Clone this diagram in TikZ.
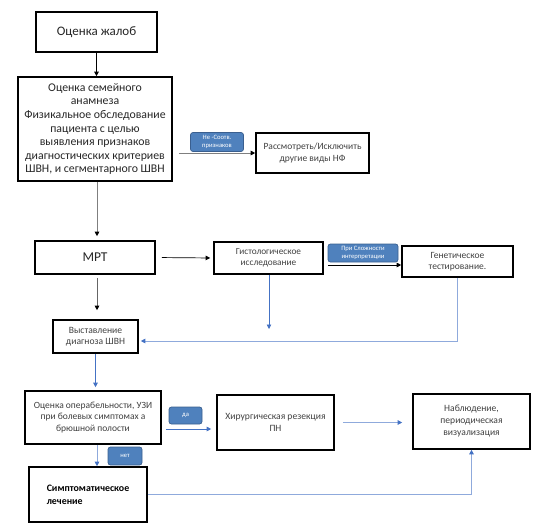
\documentclass[tikz,border=0pt]{standalone}
\usepackage{fontspec}
\setmainfont{Carlito}
\usetikzlibrary{arrows.meta}
\definecolor{txt}{HTML}{404040}
\definecolor{dtxt}{HTML}{262626}
\definecolor{bluec}{HTML}{4472C4}
\definecolor{lblue}{HTML}{8FAADC}
\definecolor{grayc}{HTML}{7F7F7F}
\definecolor{labfill}{HTML}{4F81BD}
\definecolor{labdraw}{HTML}{3A5F8F}
\begin{document}
\begin{tikzpicture}[x=1pt,y=-1pt,
  box/.style={draw=black,line width=1.6pt,inner sep=0pt,align=center,text=txt},
  lab/.style={draw=labdraw,fill=labfill,rounded corners=2.5pt,line width=0.7pt,inner sep=0pt,align=center,text=white,font=\fontsize{6.6}{7.4}\selectfont},
  tip/.style={-{Triangle[length=4.5pt,width=4.5pt]}},
  conn/.style={tip,line width=0.7pt}
]
\useasboundingbox (0,0) rectangle (544,531);
% boxes
\node[box,line width=2pt,minimum width=121pt,minimum height=40pt,text=dtxt,font=\fontsize{13}{15}\selectfont] (b1) at (96.5,32) {Оценка жалоб};
\node[box,minimum width=154pt,minimum height=104pt,font=\fontsize{11.8}{13.6}\selectfont,text=dtxt] (b2) at (95,129) {Оценка семейного\\анамнеза\\Физикальное обследование\\пациента с целью\\выявления признаков\\диагностических критериев\\ШВН, и сегментарного ШВН};
\node[box,minimum width=113pt,minimum height=40pt,font=\fontsize{9.5}{11.3}\selectfont] (b3) at (312.5,153) {Рассмотреть/Исключить\\другие виды НФ};
\node[box,minimum width=120pt,minimum height=33pt,text=dtxt,font=\fontsize{13.5}{15}\selectfont] (mrt) at (95,257.5) {МРТ};
\node[box,minimum width=109pt,minimum height=32pt,font=\fontsize{9.3}{11}\selectfont] (hist) at (268.5,258) {Гистологическое\\исследование};
\node[box,minimum width=111pt,minimum height=31pt,font=\fontsize{9.5}{11.3}\selectfont] (gen) at (457.5,261.5) {Генетическое\\тестирование.};
\node[box,minimum width=85pt,minimum height=33pt,font=\fontsize{9.6}{11.3}\selectfont] (diag) at (95.5,336.5) {Выставление\\диагноза ШВН};
\node[box,minimum width=136pt,minimum height=53pt,font=\fontsize{9.5}{11.7}\selectfont] (oper) at (93,417.5) {Оценка операбельности, УЗИ\\при болевых симптомах а\\брюшной полости};
\node[box,minimum width=117pt,minimum height=55pt,font=\fontsize{9.6}{12}\selectfont] (surg) at (275.5,422.5) {Хирургическая резекция\\ПН};
\node[box,minimum width=117pt,minimum height=55pt,font=\fontsize{9.6}{12}\selectfont] (obs) at (471.5,421.5) {Наблюдение,\\периодическая\\визуализация};
\node[box,minimum width=118pt,minimum height=55pt,align=left,text=black,font=\bfseries\fontsize{9.9}{12.7}\selectfont] (symp) at (88,494.5) {Симптоматическое\\лечение};
% labels
\node[lab,minimum width=53pt,minimum height=19pt] (l1) at (217,142) {Не -Соотв.\\признаков};
\node[lab,minimum width=70pt,minimum height=18pt] (l2) at (363,253) {При Сложности\\интерпретации};
\node[lab,minimum width=33pt,minimum height=17pt] (l3) at (185.5,415.5) {да};
\node[lab,minimum width=34pt,minimum height=18pt] (l4) at (125,456) {нет};
\coordinate (histend) at (269,329);
% connectors
\draw[conn,black] (b1.south) -- (b1.south |- b2.north);
\draw[conn,grayc,-{Triangle[length=4.5pt,width=4.5pt,black]}] (b2.east |- b3.west) ++(6,0) -- (b3.west);
\draw[conn,grayc,-{Triangle[length=4.5pt,width=4.5pt,black]},shorten >=4pt] ([xshift=2pt]b2.south) -- ([xshift=2pt]b2.south |- mrt.north);
\draw[conn,black,shorten <=6pt,shorten >=3pt] (mrt.east) -- (hist.west);
\draw[conn,black,shorten <=4pt] ([yshift=-7pt]hist.east) -- ([yshift=-3.5pt]gen.west);
\draw[conn,bluec] ([xshift=0.5pt]hist.south) -- (histend);
\draw[conn,lblue,-{Triangle[length=4.5pt,width=4.5pt,bluec]}] (gen.south) |- ([yshift=-4.5pt,xshift=2pt]diag.east);
\draw[conn,grayc!80!black,-{Triangle[length=4.5pt,width=4.5pt,black]},shorten <=3pt,shorten >=9pt] ([xshift=2pt]mrt.south) -- ([xshift=2pt]mrt.south |- diag.north);
\draw[conn,bluec,shorten >=3pt] (diag.south) -- (diag.south |- oper.north);
\draw[conn,bluec,shorten <=4pt,shorten >=5pt] ([yshift=-11.5pt]oper.east) -- ([yshift=-6.5pt]surg.west);
\draw[conn,lblue,-{Triangle[length=4.5pt,width=4.5pt,bluec]},shorten <=8pt,shorten >=10pt] (surg.east) -- (surg.east -| obs.west);
\draw[conn,lblue,-{Triangle[length=4.5pt,width=4.5pt,bluec]}] ([xshift=4pt]oper.south) -- ([xshift=4pt]oper.south |- symp.north);
\draw[conn,lblue,-{Triangle[length=4.5pt,width=4.5pt,bluec]}] (symp.east) -| (obs.south);
\end{tikzpicture}
\end{document}
